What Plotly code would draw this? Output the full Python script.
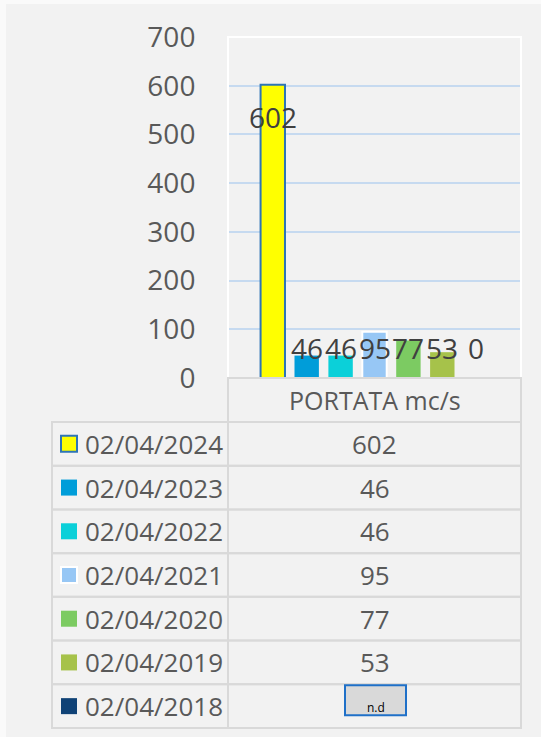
import plotly.graph_objects as go

category = "PORTATA mc/s"
dates = ["02/04/2024", "02/04/2023", "02/04/2022", "02/04/2021",
         "02/04/2020", "02/04/2019", "02/04/2018"]
portata = [602, 46, 46, 95, 77, 53, None]
y_ticks = [0, 100, 200, 300, 400, 500, 600, 700]

colors = ["#ffff00", "#009dd9", "#0bd0d9", "#97c7f5", "#7ccb62", "#a6c24a", "#0f4276"]
line_colors = ["#2e75b6", None, None, "#ffffff", None, None, None]

FONT = "Open Sans"
TXT = "#595959"

# plot area in pixels
L, R, T, B = 228, 521, 37, 378
W, H = R - L, B - T


def px(x):
    return (x - L) / W


def py(y):
    return (B - y) / H


fig = go.Figure()
for i, (d, v) in enumerate(zip(dates, portata)):
    lc = line_colors[i]
    fig.add_trace(go.Bar(
        name=d, x=[category], y=[v if v is not None else 0],
        marker=dict(color=colors[i],
                    line=dict(color=lc if lc else colors[i], width=2 if lc else 0)),
        showlegend=False, hoverinfo="skip",
    ))

bargap, bargroupgap = 0.19, 0.28
slot = W * (1 - bargap) / len(dates)

shapes = []
annotations = []

# white strips at left and top edge
shapes.append(dict(type="rect", xref="paper", yref="paper", layer="below",
                   x0=px(0), x1=px(6), y0=py(0), y1=py(737),
                   fillcolor="#fafafa", line=dict(width=0)))
shapes.append(dict(type="rect", xref="paper", yref="paper", layer="below",
                   x0=px(0), x1=px(541), y0=py(0), y1=py(4),
                   fillcolor="#fafafa", line=dict(width=0)))

# data labels
for i, v in enumerate(portata):
    val = v if v is not None else 0
    annotations.append(dict(
        x=category, y=max(val - 66, 62), xref="x", yref="y",
        xshift=(i - (len(dates) - 1) / 2) * slot,
        xanchor="center", yanchor="middle",
        text=str(val), showarrow=False,
        font=dict(family=FONT, size=28, color="#404040"),
    ))

# plot area border (white)
shapes.append(dict(type="rect", xref="paper", yref="paper",
                   x0=0, x1=1, y0=0, y1=1, layer="above",
                   line=dict(color="#ffffff", width=2)))

grid = "#d9d9d9"
# header cell
shapes.append(dict(type="rect", xref="paper", yref="paper",
                   x0=px(228), x1=px(521), y0=py(378), y1=py(422),
                   line=dict(color=grid, width=2), fillcolor="#f2f2f2"))
annotations.append(dict(x=px(374.5), y=py(400), xref="paper", yref="paper",
                        xanchor="center", yanchor="middle",
                        text=category, showarrow=False,
                        font=dict(family=FONT, size=25, color=TXT)))

row_h = (728 - 422) / len(dates)
for i, (d, v) in enumerate(zip(dates, portata)):
    y0 = 422 + i * row_h
    y1 = y0 + row_h
    yc = (y0 + y1) / 2
    shapes.append(dict(type="rect", xref="paper", yref="paper",
                       x0=px(52), x1=px(228), y0=py(y0), y1=py(y1),
                       line=dict(color=grid, width=2)))
    shapes.append(dict(type="rect", xref="paper", yref="paper",
                       x0=px(228), x1=px(521), y0=py(y0), y1=py(y1),
                       line=dict(color=grid, width=2)))
    lc = line_colors[i]
    shapes.append(dict(type="rect", xref="paper", yref="paper",
                       x0=px(61), x1=px(77), y0=py(yc - 8), y1=py(yc + 8),
                       fillcolor=colors[i],
                       line=dict(color=lc if lc else colors[i], width=2 if lc else 0)))
    annotations.append(dict(x=px(83), y=py(yc), xref="paper", yref="paper",
                            xanchor="left", yanchor="middle", text=d, showarrow=False,
                            font=dict(family=FONT, size=26, color=TXT)))
    if v is None:
        shapes.append(dict(type="rect", xref="paper", yref="paper",
                           x0=px(345), x1=px(406), y0=py(yc - 21), y1=py(yc + 9),
                           fillcolor="#d9d9d9", line=dict(color="#1f70c8", width=2)))
        annotations.append(dict(x=px(375.5), y=py(yc + 1), xref="paper", yref="paper",
                                xanchor="center", yanchor="middle",
                                text="n.d", showarrow=False,
                                font=dict(family=FONT, size=12, color="#000000")))
    else:
        annotations.append(dict(x=px(374.5), y=py(yc), xref="paper", yref="paper",
                                xanchor="center", yanchor="middle",
                                text=str(v), showarrow=False,
                                font=dict(family=FONT, size=26, color=TXT)))

fig.update_layout(
    width=541, height=737, autosize=False,
    margin=dict(l=L, r=541 - R, t=T, b=737 - B, pad=0),
    paper_bgcolor="#f2f2f2", plot_bgcolor="#f2f2f2",
    barmode="group", bargap=bargap, bargroupgap=bargroupgap,
    shapes=shapes, annotations=annotations,
    xaxis=dict(showticklabels=False, showgrid=False, zeroline=False, showline=False,
               ticks=""),
    yaxis=dict(range=[0, 700], tickvals=y_ticks, showgrid=True,
               gridcolor="#c6daf0", gridwidth=2, zeroline=False, showline=False,
               ticks="outside", ticklen=26, tickcolor="rgba(0,0,0,0)",
               tickfont=dict(family=FONT, size=28, color=TXT)),
)

fig.write_html("out.html", config={"displayModeBar": False},
               post_script="document.body.style.margin='0';document.body.style.overflow='hidden';document.body.style.background='#f2f2f2';")
